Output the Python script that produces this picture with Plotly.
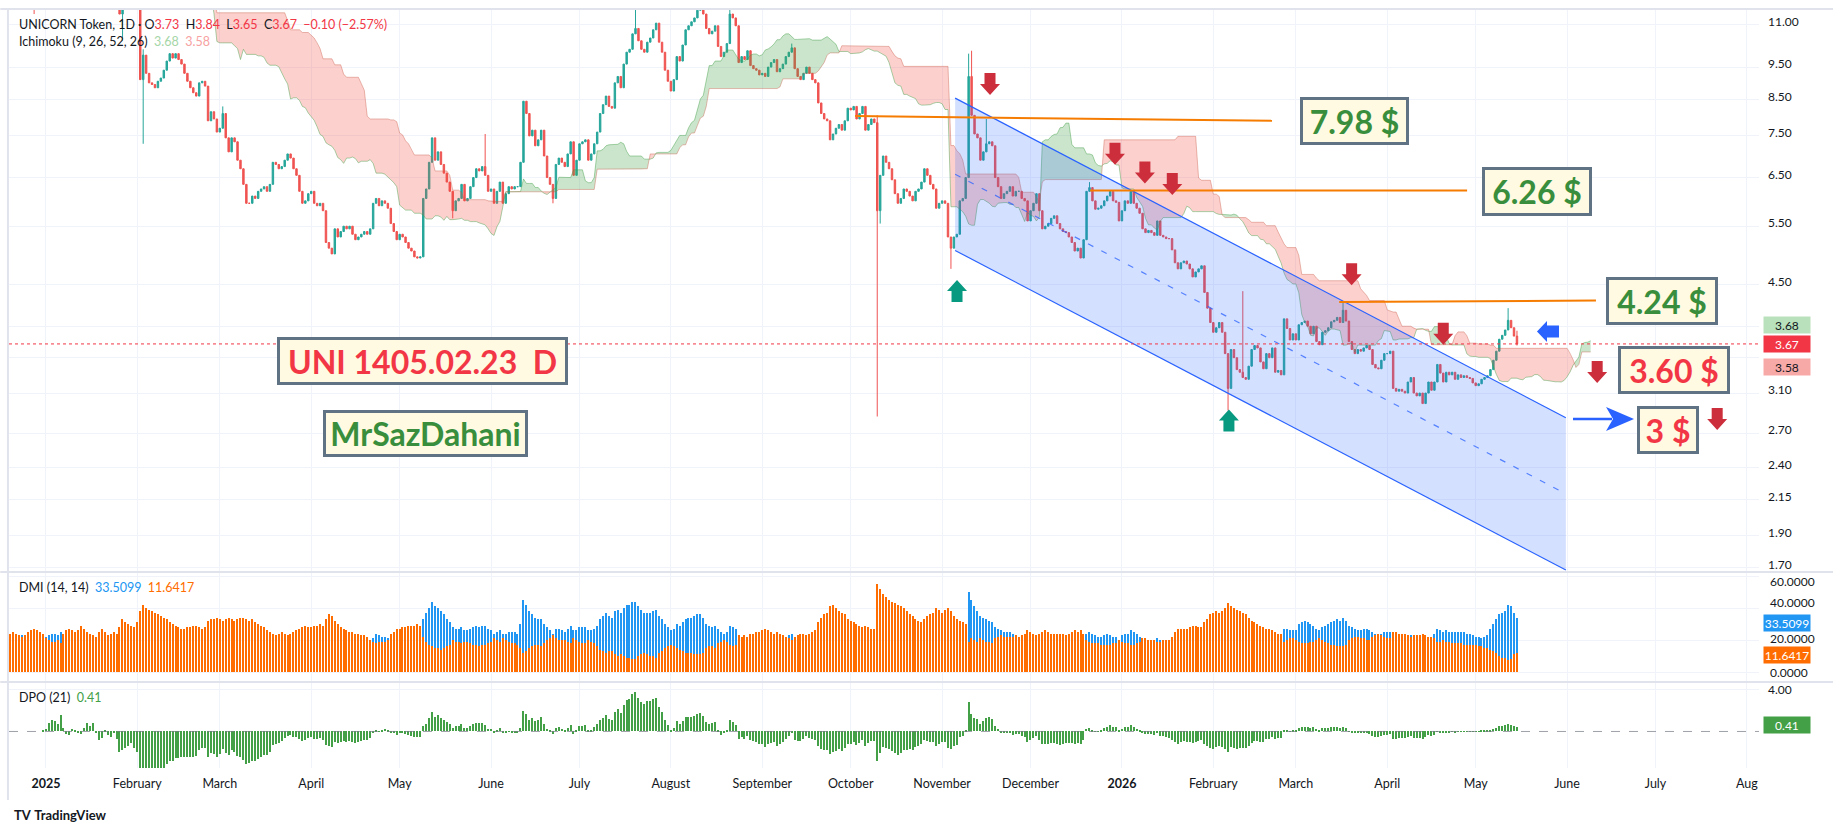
import numpy as np
import pandas as pd
import plotly.graph_objects as go

# UNI daily closes, one list per month (first list starts 2024-12-20)
first_day = "2024-12-20"
close_2024_12 = [13.0, 13.3, 12.9, 13.6, 14.3, 13.9, 13.0, 12.6, 12.2, 12.5, 12.6, 13.1]
close_2025_01 = [13.4, 13.9, 14.3, 14.4, 14.2, 15.0, 13.7, 13.0, 12.8, 13.3, 13.2, 13.0, 12.9, 13.6, 14.1, 13.9,
                 14.3, 13.3, 12.6, 12.8, 13.6, 13.1, 12.9, 13.2, 12.6, 11.4, 11.6, 11.9, 12.1, 12.4, 12.0]
close_2025_02 = [11.6, 9.1, 9.9, 9.3, 9.0, 8.95, 8.85, 9.05, 9.15, 9.4, 9.7, 9.95, 9.8, 9.95, 9.75, 9.6,
                 9.3, 9.05, 8.85, 8.7, 8.6, 9.0, 9.05, 8.9, 7.9, 8.15, 7.95, 7.6]
close_2025_03 = [7.7, 8.1, 7.45, 7.1, 7.45, 7.35, 6.9, 6.7, 6.35, 5.95, 5.95, 6.1, 6.05, 6.2, 6.25, 6.3,
                 6.2, 6.35, 6.85, 6.8, 6.7, 6.75, 6.9, 7.05, 6.95, 6.7, 6.55, 6.2, 5.95, 6.0, 6.15]
close_2025_04 = [6.2, 5.95, 5.9, 5.95, 5.8, 5.2, 5.1, 5.0, 5.45, 5.3, 5.4, 5.5, 5.45, 5.5, 5.35, 5.25,
                 5.3, 5.35, 5.4, 5.35, 5.45, 5.95, 6.05, 5.9, 6.0, 5.95, 5.85, 5.55, 5.4, 5.25]
close_2025_05 = [5.35, 5.3, 5.2, 5.1, 5.05, 4.95, 4.93, 4.95, 6.05, 6.25, 6.85, 7.45, 6.9, 7.1, 6.8, 6.6,
                 6.4, 6.2, 5.8, 6.0, 6.05, 6.35, 6.0, 6.05, 6.3, 6.5, 6.7, 6.65, 6.75, 6.55, 6.2]
close_2025_06 = [6.25, 5.95, 6.2, 6.4, 5.95, 6.15, 6.3, 6.25, 6.3, 6.3, 6.85, 8.45, 8.1, 7.5, 7.65, 7.25,
                 7.4, 7.65, 7.0, 6.5, 6.35, 6.05, 6.8, 6.95, 6.85, 6.75, 7.05, 7.35, 6.55, 6.9]
close_2025_07 = [7.3, 7.35, 7.4, 6.9, 7.05, 7.3, 7.6, 8.1, 8.35, 8.6, 8.3, 8.25, 9.0, 9.2, 8.85, 9.6,
                 10.0, 10.1, 10.65, 10.85, 10.4, 10.1, 10.0, 10.35, 10.5, 10.8, 11.05, 10.35, 10.0, 9.4, 9.05]
close_2025_08 = [8.75, 9.1, 9.85, 9.7, 10.25, 10.8, 10.95, 11.1, 11.25, 11.55, 11.6, 11.4, 10.85, 10.65, 10.75, 10.95,
                 10.2, 9.85, 10.0, 10.3, 11.4, 11.25, 10.95, 9.65, 9.85, 9.75, 10.05, 9.55, 9.45, 9.4, 9.25]
close_2025_09 = [9.3, 9.2, 9.5, 9.65, 9.75, 9.35, 9.45, 9.6, 9.85, 10.0, 10.15, 9.45, 9.2, 9.1, 9.3, 9.5,
                 9.3, 9.1, 9.0, 8.4, 8.1, 7.95, 7.9, 7.4, 7.55, 7.7, 7.8, 7.65, 7.9, 8.25]
close_2025_10 = [8.2, 8.3, 7.95, 8.1, 8.3, 7.65, 7.8, 7.95, 7.85, 5.8, 6.55, 7.0, 6.85, 6.7, 6.45, 6.15,
                 5.95, 6.05, 6.25, 6.2, 6.1, 6.0, 6.2, 6.25, 6.4, 6.7, 6.55, 6.35, 6.25, 5.85, 5.95]
close_2025_11 = [6.0, 5.95, 5.3, 5.1, 5.3, 5.35, 6.0, 6.05, 6.5, 9.2, 8.05, 7.55, 7.45, 6.9, 7.1, 7.3,
                 7.35, 7.25, 6.5, 6.3, 6.05, 6.15, 6.2, 6.3, 6.1, 6.2, 6.2, 6.05, 6.0, 5.6]
close_2025_12 = [5.8, 5.95, 6.15, 5.8, 5.45, 5.5, 5.55, 5.65, 5.7, 5.55, 5.45, 5.4, 5.38, 5.3, 5.2, 5.05,
                 5.1, 4.93, 5.25, 6.2, 6.28, 6.0, 5.83, 5.85, 5.9, 6.0, 6.1, 6.2, 6.0, 5.97, 5.6]
close_2026_01 = [5.8, 6.0, 5.95, 6.2, 5.95, 5.85, 5.75, 5.45, 5.38, 5.42, 5.38, 5.33, 5.6, 5.33, 5.3, 5.27,
                 5.27, 5.07, 4.85, 4.75, 4.85, 4.88, 4.83, 4.75, 4.62, 4.7, 4.75, 4.8, 4.38, 4.15, 3.95]
close_2026_02 = [3.82, 3.88, 3.95, 3.82, 3.55, 3.15, 3.6, 3.5, 3.36, 3.33, 3.27, 3.25, 3.4, 3.6, 3.65, 3.62,
                 3.45, 3.37, 3.55, 3.5, 3.62, 3.33, 3.35, 3.3, 4.0, 3.87, 3.72, 3.8]
close_2026_03 = [3.72, 3.92, 3.95, 3.97, 3.9, 3.8, 3.9, 3.7, 3.66, 3.82, 3.84, 3.88, 3.96, 3.98, 4.02, 3.95,
                 4.12, 3.97, 3.7, 3.6, 3.55, 3.6, 3.58, 3.62, 3.65, 3.6, 3.42, 3.38, 3.37, 3.47, 3.55]
close_2026_04 = [3.55, 3.58, 3.15, 3.12, 3.14, 3.12, 3.1, 3.22, 3.27, 3.1, 3.07, 3.1, 2.99, 3.1, 3.22, 3.13,
                 3.22, 3.42, 3.32, 3.22, 3.33, 3.3, 3.33, 3.25, 3.3, 3.27, 3.29, 3.27, 3.26, 3.21]
close_2026_05 = [3.18, 3.2, 3.25, 3.27, 3.29, 3.36, 3.47, 3.58, 3.73, 3.78, 3.85, 3.98, 3.88, 3.77, 3.67]

# wicks that stick out of the bodies
wick_high = {"2025-01-06": 15.6, "2025-02-03": 10.1, "2025-03-02": 8.3, "2025-05-30": 7.55,
             "2025-07-20": 11.7, "2025-08-21": 11.65, "2025-09-11": 10.3, "2025-10-10": 8.05,
             "2025-11-10": 9.95, "2025-11-11": 10.05, "2025-11-16": 7.95, "2025-12-21": 6.4,
             "2026-02-11": 4.4, "2026-03-17": 4.24, "2026-05-12": 4.15, "2026-05-15": 3.84}
wick_low = {"2024-12-28": 11.4, "2025-01-27": 10.4, "2025-02-03": 7.3, "2025-05-19": 5.65,
            "2025-06-22": 5.95, "2025-10-10": 2.86, "2025-10-11": 5.55, "2025-11-04": 4.75,
            "2026-02-06": 2.92, "2026-05-15": 3.65}

# DMI (14, 14) columns: DI+ (blue) and DI- (orange), per month
di_plus_m = [
    [19, 18, 19, 21, 23, 22, 20, 18, 17, 18, 19, 20],
    [22, 23, 24, 24, 23, 25, 22, 20, 19, 18, 19, 18, 17, 19, 21, 21, 22, 20, 18, 17, 19, 20, 19, 18, 17, 15, 14, 15, 16, 16, 15],
    [14, 12, 13, 12, 12, 11, 11, 12, 13, 14, 16, 17, 17, 18, 17, 16, 15, 14, 13, 12, 12, 14, 14, 13, 11, 12, 11, 11],
    [13, 16, 15, 14, 15, 14, 13, 12, 11, 11, 11, 12, 13, 14, 15, 16, 17, 18, 21, 21, 20, 20, 21, 22, 21, 19, 18, 16, 15, 14, 15],
    [14, 13, 13, 12, 12, 11, 10, 10, 14, 14, 15, 16, 16, 17, 16, 16, 17, 18, 18, 19, 20, 21, 24, 23, 22, 22, 21, 19, 18, 17],
    [17, 16, 15, 14, 14, 13, 13, 12, 33, 37, 40, 44, 41, 40, 38, 36, 33, 31, 28, 27, 27, 28, 26, 26, 27, 28, 29, 28, 29, 29, 27],
    [26, 24, 25, 26, 24, 24, 25, 25, 25, 24, 30, 45, 42, 38, 36, 34, 33, 33, 30, 28, 26, 24, 27, 27, 26, 25, 27, 29, 26, 26],
    [28, 28, 28, 26, 26, 27, 29, 33, 35, 37, 35, 34, 38, 39, 37, 40, 42, 42, 44, 44, 41, 39, 37, 37, 37, 38, 39, 35, 33, 30, 28],
    [26, 27, 30, 29, 31, 33, 34, 34, 35, 36, 36, 34, 30, 29, 28, 29, 27, 25, 24, 25, 29, 28, 27, 22, 22, 21, 22, 20, 19, 19, 18],
    [18, 18, 19, 20, 21, 20, 20, 21, 22, 23, 24, 22, 21, 20, 20, 21, 19, 18, 18, 15, 14, 13, 13, 12, 12, 12, 13, 14, 14, 16],
    [17, 18, 18, 19, 19, 18, 18, 18, 17, 10, 12, 14, 13, 13, 12, 12, 11, 12, 13, 13, 13, 13, 14, 15, 16, 17, 16, 15, 15, 13, 14],
    [14, 13, 12, 12, 16, 16, 18, 19, 21, 50, 45, 41, 38, 35, 34, 33, 32, 31, 28, 27, 26, 25, 25, 25, 24, 23, 22, 21, 20, 18],
    [17, 19, 20, 18, 17, 16, 17, 18, 18, 17, 17, 16, 16, 15, 15, 14, 15, 14, 16, 24, 25, 24, 23, 22, 22, 23, 24, 23, 22, 22, 20],
    [23, 24, 24, 26, 25, 24, 22, 20, 20, 20, 19, 19, 21, 20, 19, 19, 18, 17, 15, 14, 14, 14, 13, 13, 12, 12, 12, 12, 11, 10, 10],
    [10, 10, 11, 10, 9, 8, 12, 12, 11, 11, 12, 12, 13, 15, 16, 16, 15, 15, 16, 16, 17, 16, 16, 16, 27, 27, 26, 26],
    [26, 30, 31, 32, 31, 30, 29, 27, 26, 28, 29, 30, 31, 32, 33, 32, 34, 32, 29, 28, 27, 26, 26, 27, 27, 26, 25, 24, 23, 24, 25],
    [25, 25, 22, 21, 21, 21, 20, 22, 23, 21, 21, 21, 19, 20, 22, 22, 24, 27, 26, 25, 26, 25, 25, 25, 25, 25, 25, 24, 24, 23],
    [22, 22, 21, 22, 23, 27, 30, 33, 36, 37, 38, 42, 41, 37, 33.5099],
]
di_minus_m = [
    [24, 25, 24, 23, 22, 23, 25, 26, 27, 26, 25, 24],
    [21, 20, 19, 19, 20, 18, 24, 26, 27, 26, 25, 26, 29, 27, 25, 24, 23, 22, 25, 27, 25, 23, 24, 25, 24, 28, 33, 31, 30, 29, 28],
    [31, 38, 42, 40, 39, 38, 37, 36, 35, 34, 33, 31, 30, 29, 28, 27, 27, 28, 28, 29, 29, 28, 27, 28, 32, 33, 33, 34],
    [33, 32, 33, 34, 33, 32, 33, 34, 34, 33, 32, 33, 31, 30, 29, 28, 26, 25, 24, 23, 24, 25, 24, 23, 24, 25, 26, 27, 28, 29, 28],
    [28, 29, 29, 30, 29, 33, 36, 35, 32, 30, 28, 27, 26, 25, 25, 24, 24, 23, 23, 22, 20, 19, 18, 19, 19, 19, 20, 24, 25, 27],
    [27, 28, 28, 29, 29, 29, 30, 29, 22, 19, 17, 16, 15, 15, 14, 15, 16, 17, 20, 19, 19, 18, 19, 19, 18, 17, 17, 16, 17, 17, 18],
    [19, 21, 20, 19, 21, 20, 19, 18, 18, 17, 15, 12, 13, 15, 16, 17, 17, 16, 18, 20, 21, 23, 21, 20, 20, 20, 19, 18, 21, 20],
    [19, 18, 18, 20, 19, 18, 16, 14, 13, 12, 13, 13, 11, 10, 11, 10, 9, 9, 8, 8, 10, 11, 12, 11, 10, 10, 9, 12, 13, 15, 16],
    [17, 16, 15, 14, 13, 12, 12, 12, 11, 11, 11, 12, 15, 16, 16, 15, 18, 19, 20, 19, 17, 16, 17, 23, 22, 23, 22, 24, 24, 25, 25],
    [26, 27, 26, 25, 24, 25, 24, 23, 22, 21, 20, 22, 23, 24, 24, 23, 24, 25, 26, 31, 34, 36, 37, 41, 42, 40, 38, 37, 36, 33],
    [32, 31, 30, 29, 28, 29, 28, 27, 27, 55, 52, 49, 47, 45, 44, 43, 42, 41, 40, 38, 36, 35, 33, 32, 31, 33, 35, 36, 37, 40, 39],
    [37, 39, 40, 38, 35, 33, 32, 31, 30, 19, 21, 20, 19, 21, 20, 19, 19, 18, 21, 22, 23, 22, 22, 22, 22, 23, 22, 23, 24, 26],
    [25, 24, 23, 24, 25, 26, 25, 24, 24, 24, 24, 24, 23, 24, 25, 26, 25, 26, 24, 20, 19, 18, 18, 18, 17, 17, 17, 17, 18, 18, 20],
    [19, 18, 18, 17, 17, 18, 19, 21, 21, 20, 20, 20, 19, 19, 20, 20, 20, 22, 25, 27, 27, 27, 27, 28, 29, 29, 28, 28, 31, 33, 36],
    [37, 38, 37, 38, 40, 43, 41, 40, 39, 38, 37, 36, 34, 32, 31, 30, 29, 28, 27, 27, 26, 25, 24, 24, 19, 20, 21, 21],
    [20, 19, 18, 18, 18, 19, 19, 20, 21, 20, 19, 18, 17, 17, 16, 16, 16, 17, 20, 21, 22, 22, 21, 21, 20, 20, 22, 23, 24, 23, 22],
    [21, 21, 25, 25, 24, 24, 24, 23, 22, 23, 23, 23, 24, 23, 22, 22, 21, 19, 19, 20, 19, 19, 18, 18, 18, 18, 17, 17, 17, 17],
    [17, 16, 16, 15, 15, 14, 13, 12, 10, 9, 8.5, 7.5, 8, 11, 11.6417],
]

# drawings on the chart
level_starts = ["2025-10-02 12:00", "2025-12-21 05:00", "2026-03-15 17:00"]
level_ends = ["2026-02-20 22:00", "2026-04-28 02:00", "2026-06-10 19:00"]
level_start_prices = [8.03, 6.22, 4.24]
level_end_prices = [7.90, 6.22, 4.26]

channel_dates = ["2025-11-05 10:00", "2026-05-31 14:00"]
channel_upper = [8.54, 2.848]
channel_lower = [5.06, 1.688]
channel_mid = [6.574, 2.193]

box_texts = ["7.98 $", "6.26 $", "4.24 $", "3.60 $", "3 $", "UNI 1405.02.23\u00a0\u00a0D", "MrSazDahani"]
box_dates = ["2026-03-20 21:00", "2026-05-21 19:00", "2026-07-03 05:00", "2026-07-07 07:00",
             "2026-07-05 05:00", "2025-05-08 18:00", "2025-05-09 18:30"]
box_prices = [7.90, 6.20, 4.254, 3.356, 2.730, 3.461, 2.698]
box_green = [True, True, True, False, False, False, True]
box_w = [103, 104, 106, 106, 56, 285, 199]
box_h = [42, 43, 42, 42, 42, 42, 41]

red_arrow_dates = ["2025-11-17 06:00", "2025-12-29 15:30", "2026-01-08 19:00", "2026-01-18 02:00",
                   "2026-03-19 22:00", "2026-04-20 00:00", "2026-06-11 05:00", "2026-07-21 22:00"]
red_arrow_prices = [8.63, 6.79, 6.37, 6.12, 4.49, 3.66, 3.21, 2.73]
green_arrow_dates = ["2025-11-06 01:30", "2026-02-06 07:00"]
green_arrow_prices = [4.57, 2.93]
blue_left_date, blue_left_price = "2026-05-21 19:00", 3.83
blue_right_date, blue_right_price = "2026-06-23 17:00", 2.835

x_tick_dates = pd.date_range("2025-01-01", "2026-08-01", freq="MS")
x_tick_labels = ["<b>2025</b>", "February", "March", "April", "May", "June", "July", "August",
                 "September", "October", "November", "December", "<b>2026</b>", "February", "March",
                 "April", "May", "June", "July", "Aug"]
price_ticks = [1.7, 1.9, 2.15, 2.4, 2.7, 3.1, 3.5, 3.9, 4.5, 5.5, 6.5, 7.5, 8.5, 9.5, 11]
price_tick_text = ["1.70", "1.90", "2.15", "2.40", "2.70", "3.10", "", "", "4.50", "5.50", "6.50",
                   "7.50", "8.50", "9.50", "11.00"]
dmi_ticks = [0, 20, 40, 60]
dmi_tick_text = ["0.0000", "20.0000", "40.0000", "60.0000"]

UP, DOWN = "#26a69a", "#ef5350"
GRID = "#f0f3fa"
TXT = "#131722"
GREEN_T, RED_T = "#388e3c", "#f23645"

# ---- candles ----
closes = (close_2024_12 + close_2025_01 + close_2025_02 + close_2025_03 + close_2025_04 + close_2025_05
          + close_2025_06 + close_2025_07 + close_2025_08 + close_2025_09 + close_2025_10 + close_2025_11
          + close_2025_12 + close_2026_01 + close_2026_02 + close_2026_03 + close_2026_04 + close_2026_05)
dates = pd.date_range(first_day, periods=len(closes), freq="D")
df = pd.DataFrame({"close": closes}, index=dates)
df["open"] = df["close"].shift(1).fillna(df["close"].iloc[0])
df["high"] = df[["open", "close"]].max(axis=1)
df["low"] = df[["open", "close"]].min(axis=1)
for d, v in wick_high.items():
    df.loc[pd.Timestamp(d), "high"] = max(df.loc[pd.Timestamp(d), "high"], v)
for d, v in wick_low.items():
    df.loc[pd.Timestamp(d), "low"] = min(df.loc[pd.Timestamp(d), "low"], v)

di_plus = [v for m in di_plus_m for v in m]
di_minus = [v for m in di_minus_m for v in m]
assert len(di_plus) == len(di_minus) == len(closes)

# ---- Ichimoku (9, 26, 52, 26) ----
def donchian(n):
    return (df["high"].rolling(n, min_periods=1).max() + df["low"].rolling(n, min_periods=1).min()) / 2

lead_a = ((donchian(9) + donchian(26)) / 2).values
lead_b = donchian(52).values
cloud_x = dates + pd.Timedelta(days=25)

# split the cloud where the two leads cross
t = cloud_x.values.astype("datetime64[ms]").astype(np.int64).astype(float)
la, lb = np.log(lead_a), np.log(lead_b)
diff = la - lb
segments = []
sx, sa, sb = [t[0]], [la[0]], [lb[0]]
sign = diff[0] >= 0
for i in range(1, len(t)):
    s = diff[i] >= 0
    if s != sign:
        f = diff[i - 1] / (diff[i - 1] - diff[i])
        xc = t[i - 1] + f * (t[i] - t[i - 1])
        yc = la[i - 1] + f * (la[i] - la[i - 1])
        sx.append(xc); sa.append(yc); sb.append(yc)
        segments.append((sign, sx, sa, sb))
        sx, sa, sb = [xc], [yc], [yc]
        sign = s
    sx.append(t[i]); sa.append(la[i]); sb.append(lb[i])
segments.append((sign, sx, sa, sb))

# ---- DPO (21) ----
dpo = df["close"] - df["close"].rolling(21, min_periods=1).mean().shift(11)

x0, x1 = "2024-12-19 11:35", "2026-08-05 02:25"
fig = go.Figure()

for is_up, xs, ya, yb in segments:
    px_ = list(pd.to_datetime(np.array(xs), unit="ms")) + list(pd.to_datetime(np.array(xs[::-1]), unit="ms"))
    py_ = list(np.exp(ya)) + list(np.exp(yb[::-1]))
    fig.add_trace(go.Scatter(x=px_, y=py_, fill="toself", mode="lines", line=dict(width=0),
                             fillcolor="rgba(67,160,71,0.28)" if is_up else "rgba(244,67,54,0.25)",
                             hoverinfo="skip"))
fig.add_trace(go.Scatter(x=cloud_x, y=lead_a, mode="lines", line=dict(color="rgba(67,160,71,0.45)", width=1),
                         hoverinfo="skip"))
fig.add_trace(go.Scatter(x=cloud_x, y=lead_b, mode="lines", line=dict(color="rgba(200,90,70,0.4)", width=1),
                         hoverinfo="skip"))

# regression channel
cd = pd.to_datetime(channel_dates)
fig.add_trace(go.Scatter(x=[cd[0], cd[1], cd[1], cd[0]],
                         y=[channel_upper[0], channel_upper[1], channel_lower[1], channel_lower[0]],
                         fill="toself", mode="lines", line=dict(width=0),
                         fillcolor="rgba(41,98,255,0.2)", hoverinfo="skip"))
for ys in (channel_upper, channel_lower):
    fig.add_trace(go.Scatter(x=cd, y=ys, mode="lines", line=dict(color="#2962ff", width=1.2), hoverinfo="skip"))
fig.add_trace(go.Scatter(x=cd, y=channel_mid, mode="lines",
                         line=dict(color="rgba(41,98,255,0.75)", width=1.2, dash="6px,9px"), hoverinfo="skip"))

# last price line
fig.add_trace(go.Scatter(x=[x0, x1], y=[closes[-1], closes[-1]], mode="lines",
                         line=dict(color=RED_T, width=1, dash="dot"), hoverinfo="skip"))

fig.add_trace(go.Candlestick(x=dates, open=df["open"], high=df["high"], low=df["low"], close=df["close"],
                             increasing=dict(line=dict(color=UP, width=1), fillcolor=UP),
                             decreasing=dict(line=dict(color=DOWN, width=1), fillcolor=DOWN),
                             whiskerwidth=0, hoverinfo="skip"))

for s, e, ps, pe in zip(level_starts, level_ends, level_start_prices, level_end_prices):
    fig.add_trace(go.Scatter(x=[s, e], y=[ps, pe], mode="lines", line=dict(color="#f57c00", width=2),
                             hoverinfo="skip"))

bar_w = 0.42 * 86400000
fig.add_trace(go.Bar(x=dates, y=di_plus, marker=dict(color="#2196f3", line=dict(width=0)), width=bar_w,
                     xaxis="x2", yaxis="y2", hoverinfo="skip"))
fig.add_trace(go.Bar(x=dates, y=di_minus, marker=dict(color="#ff6d00", line=dict(width=0)), width=bar_w,
                     xaxis="x2", yaxis="y2", hoverinfo="skip"))
fig.add_trace(go.Scatter(x=[x0, x1], y=[0, 0], mode="lines", xaxis="x3", yaxis="y3",
                         line=dict(color="rgba(120,123,134,0.7)", width=1, dash="dash"), hoverinfo="skip"))
fig.add_trace(go.Bar(x=dates, y=dpo, marker=dict(color="#43a047", line=dict(width=0)), width=bar_w,
                     xaxis="x3", yaxis="y3", hoverinfo="skip"))


def paper(px_x, px_y):
    return (px_x - 9) / 1750, (768 - px_y) / 759


shapes = []
down_path = "M0,0 L10,11 L5.5,11 L5.5,22 L-5.5,22 L-5.5,11 L-10,11 Z"
up_path = "M0,0 L10,-11 L5.5,-11 L5.5,-22 L-5.5,-22 L-5.5,-11 L-10,-11 Z"
for d, p in zip(red_arrow_dates, red_arrow_prices):
    shapes.append(dict(type="path", xref="x", yref="y", xsizemode="pixel", ysizemode="pixel",
                       xanchor=d, yanchor=p, path=down_path, fillcolor="#cc2e3c", line=dict(width=0)))
for d, p in zip(green_arrow_dates, green_arrow_prices):
    shapes.append(dict(type="path", xref="x", yref="y", xsizemode="pixel", ysizemode="pixel",
                       xanchor=d, yanchor=p, path=up_path, fillcolor="#089981", line=dict(width=0)))
shapes.append(dict(type="path", xref="x", yref="y", xsizemode="pixel", ysizemode="pixel",
                   xanchor=blue_left_date, yanchor=blue_left_price,
                   path="M0,0 L10,10.5 L10,6 L22,6 L22,-6 L10,-6 L10,-10.5 Z",
                   fillcolor="#2962ff", line=dict(width=0)))
shapes.append(dict(type="path", xref="x", yref="y", xsizemode="pixel", ysizemode="pixel",
                   xanchor=blue_right_date, yanchor=blue_right_price,
                   path="M-61,-1.2 L-22,-1.2 L-22,1.2 L-61,1.2 Z M0,0 L-28,12 L-21,0 L-28,-12 Z",
                   fillcolor="#2962ff", line=dict(width=0)))
# pane separators and frame
for yy in (572, 682):
    _, py = paper(0, yy)
    shapes.append(dict(type="line", xref="paper", yref="paper", x0=-0.005, x1=1.05, y0=py, y1=py,
                       line=dict(color="#e0e3eb", width=2)))
shapes.append(dict(type="line", xref="paper", yref="paper", x0=-0.005, x1=1.05, y0=paper(0, 9)[1],
                   y1=paper(0, 9)[1], line=dict(color="#e0e3eb", width=2)))
shapes.append(dict(type="line", xref="paper", yref="paper", x0=-0.0006, x1=-0.0006, y0=paper(0, 800)[1],
                   y1=1, line=dict(color="#e0e3eb", width=2)))

ann = []
for txt, d, p, g, w, h in zip(box_texts, box_dates, box_prices, box_green, box_w, box_h):
    ann.append(dict(x=d, y=np.log10(p), xref="x", yref="y", text="<b>" + txt + "</b>", showarrow=False,
                    font=dict(family="Lato", size=32, color=GREEN_T if g else RED_T),
                    bgcolor="#fffae1", bordercolor="#5f7384", borderwidth=3, borderpad=0,
                    width=w, height=h, align="center", valign="middle"))

hx, hy = paper(17, 25)
ann.append(dict(x=hx, y=hy, xref="paper", yref="paper", xanchor="left", yanchor="middle", showarrow=False,
                font=dict(family="Lato", size=12.5, color=TXT),
                text=("UNICORN Token, 1D \u00b7 O<span style='color:#f23645'>3.73</span>\u00a0\u00a0"
                      "H<span style='color:#f23645'>3.84</span>\u00a0\u00a0L<span style='color:#f23645'>3.65</span>"
                      "\u00a0\u00a0C<span style='color:#f23645'>3.67</span>\u00a0\u00a0"
                      "<span style='color:#f23645'>\u22120.10 (\u22122.57%)</span>")))
hx, hy = paper(17, 42)
ann.append(dict(x=hx, y=hy, xref="paper", yref="paper", xanchor="left", yanchor="middle", showarrow=False,
                font=dict(family="Lato", size=12.5, color=TXT),
                text=("Ichimoku (9, 26, 52, 26)\u00a0\u00a0<span style='color:#a5d6a7'>3.68</span>"
                      "\u00a0\u00a0<span style='color:#f7a1a1'>3.58</span>")))
hx, hy = paper(17, 587)
ann.append(dict(x=hx, y=hy, xref="paper", yref="paper", xanchor="left", yanchor="middle", showarrow=False,
                font=dict(family="Lato", size=12.5, color=TXT),
                text=("DMI (14, 14)\u00a0\u00a0<span style='color:#2196f3'>33.5099</span>"
                      "\u00a0\u00a0<span style='color:#ff6d00'>11.6417</span>")))
hx, hy = paper(17, 697)
ann.append(dict(x=hx, y=hy, xref="paper", yref="paper", xanchor="left", yanchor="middle", showarrow=False,
                font=dict(family="Lato", size=12.5, color=TXT),
                text="DPO (21)\u00a0\u00a0<span style='color:#43a047'>0.41</span>"))
hx, hy = paper(12, 815)
ann.append(dict(x=hx, y=hy, xref="paper", yref="paper", xanchor="left", yanchor="middle", showarrow=False,
                font=dict(family="Lato", size=13, color=TXT), text="<b>TV</b>\u00a0<b>TradingView</b>"))

# DMI scale labels, nudged clear of the value tags the way the price scale does it
for val, txt, nudge in zip(dmi_ticks, dmi_tick_text, [0, 2, 6, -5]):
    ann.append(dict(x=(1768 - 9) / 1750, y=val, xref="paper", yref="y2", xanchor="left", yanchor="middle",
                    yshift=nudge, showarrow=False, text=txt, font=dict(family="Lato", size=12, color=TXT)))

# value tags on the price scales
tag_x = (1763 - 9) / 1750
tags = [("3.68", "y", np.log10(3.68), 18, "#b9e1bb", TXT), ("3.67", "y", np.log10(3.67), 0, "#f23645", "white"),
        ("3.58", "y", np.log10(3.58), -16, "#f7a9a8", TXT), ("33.5099", "y2", 33.5099, -5, "#2196f3", "white"),
        ("11.6417", "y2", 11.6417, -2, "#ff6d00", "white"), ("0.41", "y3", 0.41, 2, "#43a047", "white")]
for txt, yr, yv, ys, bg, fc in tags:
    ann.append(dict(x=tag_x, y=yv, xref="paper", yref=yr, xanchor="left", yanchor="middle", yshift=ys,
                    showarrow=False, text=txt, bgcolor=bg, font=dict(family="Lato", size=12, color=fc),
                    width=44, height=14, borderpad=1, align="center"))

xcommon = dict(type="date", range=[x0, x1], showgrid=True, gridcolor=GRID, gridwidth=1,
               tickvals=x_tick_dates, ticktext=x_tick_labels, zeroline=False, showline=False, ticks="")
ycommon = dict(side="right", showgrid=True, gridcolor=GRID, gridwidth=1, zeroline=False, ticks="",
               tickfont=dict(family="Lato", size=12, color=TXT), ticklabelstandoff=8, showline=False)

fig.update_layout(
    width=1833, height=833, margin=dict(l=9, r=74, t=9, b=65),
    paper_bgcolor="white", plot_bgcolor="white", showlegend=False, barmode="overlay", bargap=0,
    font=dict(family="Lato", size=12, color=TXT),
    xaxis=dict(**xcommon, anchor="y", showticklabels=False, rangeslider=dict(visible=False)),
    xaxis2=dict(**xcommon, anchor="y2", matches="x", showticklabels=False),
    xaxis3=dict(**xcommon, anchor="y3", matches="x", showticklabels=True,
                tickfont=dict(family="Lato", size=12.5, color=TXT), ticklabelstandoff=6),
    yaxis=dict(**ycommon, domain=[(768 - 571) / 759, 1], type="log", ticklabelshift=-3,
               range=[np.log10(1.682), np.log10(11.60)], tickvals=price_ticks, ticktext=price_tick_text),
    yaxis2=dict(**ycommon, domain=[(768 - 681) / 759, (768 - 573) / 759], range=[-5.625, 61.875],
                tickvals=dmi_ticks, showticklabels=False),
    yaxis3=dict(**ycommon, domain=[0, (768 - 683) / 759], range=[-3.52, 4.67],
                tickvals=[4], ticktext=["4.00"]),
    shapes=shapes, annotations=ann,
)

fig.write_html("out.html", config={"displayModeBar": False},
               post_script="document.body.style.margin='0';")
